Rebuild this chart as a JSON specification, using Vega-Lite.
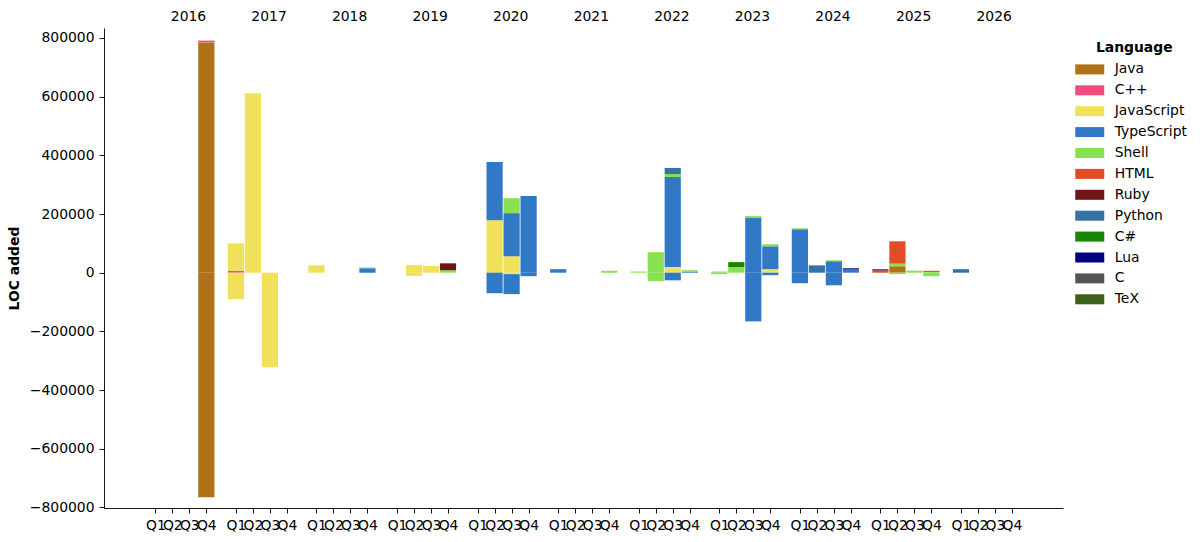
{
  "$schema": "https://vega.github.io/schema/vega-lite/v6.json",
  "width": 959,
  "height": 480,
  "autosize": "none",
  "padding": {"left": 104, "top": 28, "right": 139, "bottom": 34},
  "config": {
    "font": "DejaVu Sans",
    "view": {"stroke": null},
    "axis": {"labelColor": "#000", "titleColor": "#000", "domainColor": "#000", "tickColor": "#000", "grid": false, "labelFontSize": 13.9, "titleFontSize": 13.9, "domainWidth": 0.9, "tickWidth": 0.9}
  },
  "layer": [
    {
      "data": {"values": [
        {"year": 2016, "q": 4, "lang": "Java", "loc": 785000},
        {"year": 2016, "q": 4, "lang": "C++", "loc": 6000},
        {"year": 2016, "q": 4, "lang": "Java", "loc": -765000},
        {"year": 2017, "q": 1, "lang": "C++", "loc": 7000},
        {"year": 2017, "q": 1, "lang": "JavaScript", "loc": 93000},
        {"year": 2017, "q": 1, "lang": "JavaScript", "loc": -90000},
        {"year": 2017, "q": 2, "lang": "JavaScript", "loc": 612000},
        {"year": 2017, "q": 3, "lang": "JavaScript", "loc": -322000},
        {"year": 2018, "q": 1, "lang": "JavaScript", "loc": 25000},
        {"year": 2018, "q": 4, "lang": "TypeScript", "loc": 15000},
        {"year": 2018, "q": 4, "lang": "Shell", "loc": 3000},
        {"year": 2019, "q": 2, "lang": "JavaScript", "loc": 26000},
        {"year": 2019, "q": 2, "lang": "JavaScript", "loc": -11000},
        {"year": 2019, "q": 3, "lang": "JavaScript", "loc": 23000},
        {"year": 2019, "q": 4, "lang": "Shell", "loc": 8500},
        {"year": 2019, "q": 4, "lang": "Ruby", "loc": 23500},
        {"year": 2020, "q": 2, "lang": "JavaScript", "loc": 179000},
        {"year": 2020, "q": 2, "lang": "TypeScript", "loc": 198000},
        {"year": 2020, "q": 2, "lang": "TypeScript", "loc": -70000},
        {"year": 2020, "q": 3, "lang": "JavaScript", "loc": 56000},
        {"year": 2020, "q": 3, "lang": "TypeScript", "loc": 147000},
        {"year": 2020, "q": 3, "lang": "Shell", "loc": 51000},
        {"year": 2020, "q": 3, "lang": "JavaScript", "loc": -5000},
        {"year": 2020, "q": 3, "lang": "TypeScript", "loc": -68000},
        {"year": 2020, "q": 4, "lang": "TypeScript", "loc": 261000},
        {"year": 2020, "q": 4, "lang": "TypeScript", "loc": -12000},
        {"year": 2021, "q": 1, "lang": "TypeScript", "loc": 12000},
        {"year": 2021, "q": 4, "lang": "Shell", "loc": 7000},
        {"year": 2022, "q": 1, "lang": "Shell", "loc": 4000},
        {"year": 2022, "q": 2, "lang": "Shell", "loc": 70000},
        {"year": 2022, "q": 2, "lang": "Shell", "loc": -29000},
        {"year": 2022, "q": 3, "lang": "JavaScript", "loc": 19000},
        {"year": 2022, "q": 3, "lang": "TypeScript", "loc": 307000},
        {"year": 2022, "q": 3, "lang": "Shell", "loc": 10000},
        {"year": 2022, "q": 3, "lang": "Python", "loc": 21000},
        {"year": 2022, "q": 3, "lang": "TypeScript", "loc": -26000},
        {"year": 2022, "q": 4, "lang": "TypeScript", "loc": 4000},
        {"year": 2022, "q": 4, "lang": "Shell", "loc": 4500},
        {"year": 2023, "q": 1, "lang": "Shell", "loc": 4000},
        {"year": 2023, "q": 1, "lang": "Shell", "loc": -5000},
        {"year": 2023, "q": 2, "lang": "Shell", "loc": 19000},
        {"year": 2023, "q": 2, "lang": "C#", "loc": 17000},
        {"year": 2023, "q": 3, "lang": "TypeScript", "loc": 186000},
        {"year": 2023, "q": 3, "lang": "Shell", "loc": 7000},
        {"year": 2023, "q": 3, "lang": "TypeScript", "loc": -166000},
        {"year": 2023, "q": 4, "lang": "JavaScript", "loc": 12000},
        {"year": 2023, "q": 4, "lang": "TypeScript", "loc": 78000},
        {"year": 2023, "q": 4, "lang": "Shell", "loc": 7000},
        {"year": 2023, "q": 4, "lang": "TypeScript", "loc": -8500},
        {"year": 2024, "q": 1, "lang": "TypeScript", "loc": 148000},
        {"year": 2024, "q": 1, "lang": "Shell", "loc": 3500},
        {"year": 2024, "q": 1, "lang": "TypeScript", "loc": -36000},
        {"year": 2024, "q": 2, "lang": "Python", "loc": 25000},
        {"year": 2024, "q": 3, "lang": "TypeScript", "loc": 39000},
        {"year": 2024, "q": 3, "lang": "Shell", "loc": 3500},
        {"year": 2024, "q": 3, "lang": "TypeScript", "loc": -43000},
        {"year": 2024, "q": 4, "lang": "TypeScript", "loc": 11000},
        {"year": 2024, "q": 4, "lang": "Lua", "loc": 4000},
        {"year": 2025, "q": 1, "lang": "HTML", "loc": 8000},
        {"year": 2025, "q": 1, "lang": "Lua", "loc": 3500},
        {"year": 2025, "q": 2, "lang": "Java", "loc": 22000},
        {"year": 2025, "q": 2, "lang": "Shell", "loc": 9000},
        {"year": 2025, "q": 2, "lang": "HTML", "loc": 76000},
        {"year": 2025, "q": 2, "lang": "Shell", "loc": -5000},
        {"year": 2025, "q": 3, "lang": "Shell", "loc": 7000},
        {"year": 2025, "q": 4, "lang": "Shell", "loc": 2500},
        {"year": 2025, "q": 4, "lang": "HTML", "loc": 4000},
        {"year": 2025, "q": 4, "lang": "Shell", "loc": -12000},
        {"year": 2026, "q": 1, "lang": "Python", "loc": 12000}
      ]},
      "transform": [
        {"calculate": "(datum.year - 2016) * 4.74 + datum.q - 1", "as": "pos"},
        {"calculate": "indexof(['Java','C++','JavaScript','TypeScript','Shell','HTML','Ruby','Python','C#','Lua','C','TeX'], datum.lang)", "as": "ord"}
      ],
      "mark": {"type": "bar", "size": 16.2},
      "encoding": {
        "x": {
          "field": "pos", "type": "quantitative",
          "scale": {"domain": [-3.02, 53.4], "nice": false, "zero": false, "padding": 0},
          "axis": {
            "orient": "bottom", "title": null, "tickSize": 5, "labelPadding": 5, "labelOverlap": false, "labelFlush": false,
            "values": [0,1,2,3,4.74,5.74,6.74,7.74,9.48,10.48,11.48,12.48,14.22,15.22,16.22,17.22,18.96,19.96,20.96,21.96,23.7,24.7,25.7,26.7,28.44,29.44,30.44,31.44,33.18,34.18,35.18,36.18,37.92,38.92,39.92,40.92,42.66,43.66,44.66,45.66,47.4,48.4,49.4,50.4],
            "labelExpr": "'Q' + (round(datum.value - floor((datum.value + 0.1) / 4.74) * 4.74) + 1)"
          }
        },
        "y": {
          "field": "loc", "type": "quantitative", "stack": "zero",
          "scale": {"domain": [-802000, 834000], "nice": false, "zero": false, "padding": 0},
          "axis": {"title": "LOC added", "titleFontWeight": "bold", "titlePadding": 8, "tickSize": 5, "labelPadding": 5, "format": "d", "values": [-800000,-600000,-400000,-200000,0,200000,400000,600000,800000]}
        },
        "color": {
          "field": "lang", "type": "nominal",
          "scale": {
            "domain": ["Java","C++","JavaScript","TypeScript","Shell","HTML","Ruby","Python","C#","Lua","C","TeX"],
            "range": ["#b07219","#f34b7d","#f1e05a","#3178c6","#89e051","#e34c26","#701516","#3572A5","#178600","#000080","#555555","#3D6117"]
          },
          "legend": {
            "title": "Language", "orient": "none", "legendX": 978.25, "legendY": 13,
            "titleAnchor": "middle", "titleFontSize": 13.9, "titleFontWeight": "bold", "titleColor": "#000", "titlePadding": 7,
            "labelFontSize": 13.9, "labelColor": "#000", "labelOffset": 17.5,
            "symbolType": "M-2,-0.69H2V0.69H-2Z", "symbolSize": 210.25, "symbolStrokeWidth": 0, "symbolOpacity": 1,
            "rowPadding": 5.9, "padding": 0
          }
        },
        "order": {"field": "ord", "type": "quantitative"}
      }
    },
    {
      "data": {"values": [{"year": 2016},{"year": 2017},{"year": 2018},{"year": 2019},{"year": 2020},{"year": 2021},{"year": 2022},{"year": 2023},{"year": 2024},{"year": 2025},{"year": 2026}]},
      "transform": [{"calculate": "(datum.year - 2016) * 4.74 + 1.92", "as": "pos"}],
      "mark": {"type": "rule", "opacity": 0},
      "encoding": {
        "x": {
          "field": "pos", "type": "quantitative",
          "scale": {"domain": [-3.02, 53.4], "nice": false, "zero": false, "padding": 0},
          "axis": {
            "orient": "top", "title": null, "domain": false, "ticks": false, "labelPadding": 5, "labelOverlap": false, "labelFlush": false,
            "values": [1.92,6.66,11.4,16.14,20.88,25.62,30.36,35.1,39.84,44.58,49.32],
            "labelExpr": "'' + (2016 + round((datum.value - 1.92) / 4.74))"
          }
        }
      }
    },
    {
      "mark": {"type": "rule", "color": "#404040", "strokeWidth": 1},
      "encoding": {"y": {"datum": 0}}
    }
  ],
  "resolve": {"scale": {"x": "independent"}, "axis": {"x": "independent"}}
}
